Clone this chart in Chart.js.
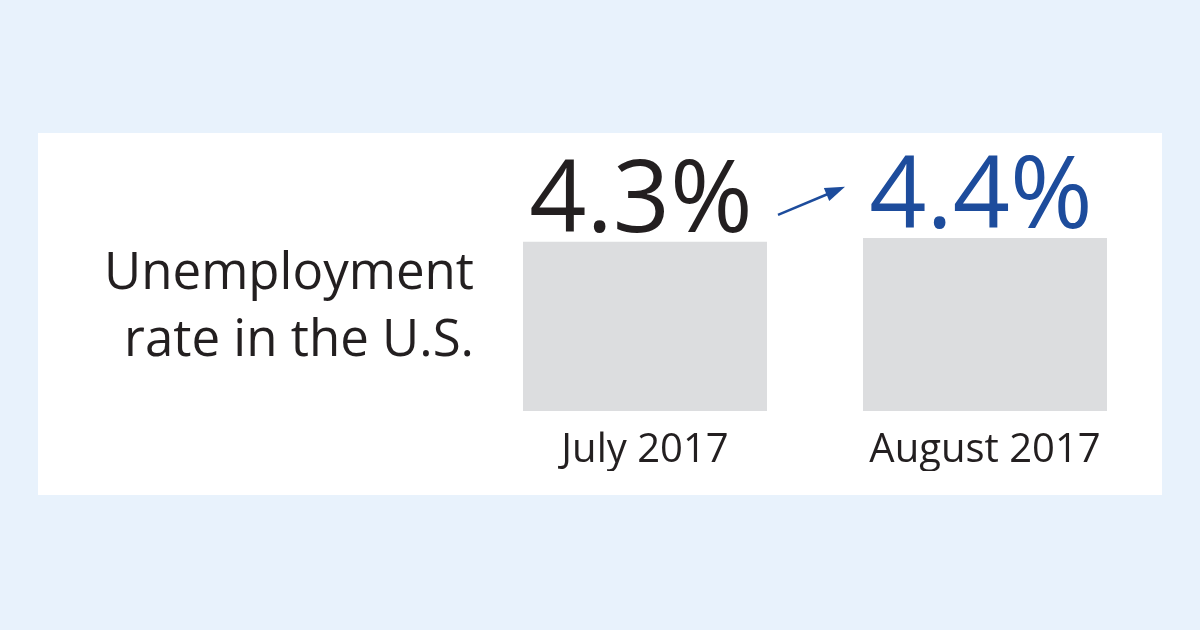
<!DOCTYPE html>
<html>
<head>
<meta charset="utf-8">
<script src="https://cdn.jsdelivr.net/npm/chart.js@4"></script>
<style>
    html, body { margin: 0; padding: 0; }
    body { width: 1200px; height: 630px; background: #e8f2fc; position: relative; overflow: hidden; font-family: 'Open Sans', sans-serif; }
    .panel { position: absolute; left: 38px; top: 133px; width: 1124px; height: 362px; background: #ffffff; }
    .title { position: absolute; right: 726px; top: 236px; text-align: right; font-size: 51px; line-height: 67px; color: #231f20; white-space: nowrap; }
    #rateChart { position: absolute; left: 0; top: 0; }
</style>
</head>
<body>
<div class="panel"></div>
<div class="title">Unemployment<br>rate in the U.S.</div>
<canvas id="rateChart" width="1200" height="630"></canvas>
<script>
// Unemployment rate, July vs August 2017
const months = ['July 2017', 'August 2017'];
const rates = [4.3, 4.4];
const valueColors = ['#231f20', '#1d4c9c'];

const textColor = '#231f20';
const barColor = '#dcdddf';

// Big percentage labels above each bar, plus the arrow between them
const valueLabels = {
    id: 'valueLabels',
    afterDatasetsDraw(chart) {
        const ctx = chart.ctx;
        const bars = chart.getDatasetMeta(0).data;
        ctx.save();
        ctx.font = '100px "Open Sans"';
        ctx.textAlign = 'center';
        ctx.textBaseline = 'alphabetic';
        bars.forEach((bar, i) => {
            ctx.fillStyle = valueColors[i];
            ctx.fillText(rates[i].toFixed(1) + '%', bar.x - 4, bar.y - 10);
        });

        // arrow from first label toward the second
        const mid = (bars[0].x + bars[1].x) / 2;
        const x1 = mid - 37, y1 = bars[0].y - 27;
        const x2 = mid + 30, y2 = bars[0].y - 55;
        const ang = Math.atan2(y2 - y1, x2 - x1);
        ctx.strokeStyle = valueColors[1];
        ctx.fillStyle = valueColors[1];
        ctx.lineWidth = 2.5;
        ctx.beginPath();
        ctx.moveTo(x1, y1);
        ctx.lineTo(x2 - 14 * Math.cos(ang), y2 - 14 * Math.sin(ang));
        ctx.stroke();
        ctx.beginPath();
        ctx.moveTo(x2, y2);
        ctx.lineTo(x2 - 20 * Math.cos(ang) + 7 * Math.sin(ang), y2 - 20 * Math.sin(ang) - 7 * Math.cos(ang));
        ctx.lineTo(x2 - 20 * Math.cos(ang) - 7 * Math.sin(ang), y2 - 20 * Math.sin(ang) + 7 * Math.cos(ang));
        ctx.closePath();
        ctx.fill();
        ctx.restore();
    }
};

const ctx = document.getElementById('rateChart').getContext('2d');
new Chart(ctx, {
    type: 'bar',
    data: {
        labels: months,
        datasets: [{
            data: rates,
            backgroundColor: barColor,
            borderWidth: 0,
            categoryPercentage: 1,
            barPercentage: 0.7176
        }]
    },
    options: {
        responsive: false,
        animation: false,
        layout: {
            padding: { left: 475, right: 45, top: 175, bottom: 159 }
        },
        plugins: {
            legend: { display: false },
            tooltip: { enabled: false }
        },
        scales: {
            x: {
                grid: { display: false },
                border: { display: false },
                ticks: {
                    color: textColor,
                    padding: 8,
                    font: { family: 'Open Sans', size: 40 }
                },
                afterFit: scale => { scale.height = 60; }
            },
            y: {
                display: false,
                min: 0,
                max: 6
            }
        }
    },
    plugins: [valueLabels]
});
</script>
</body>
</html>
